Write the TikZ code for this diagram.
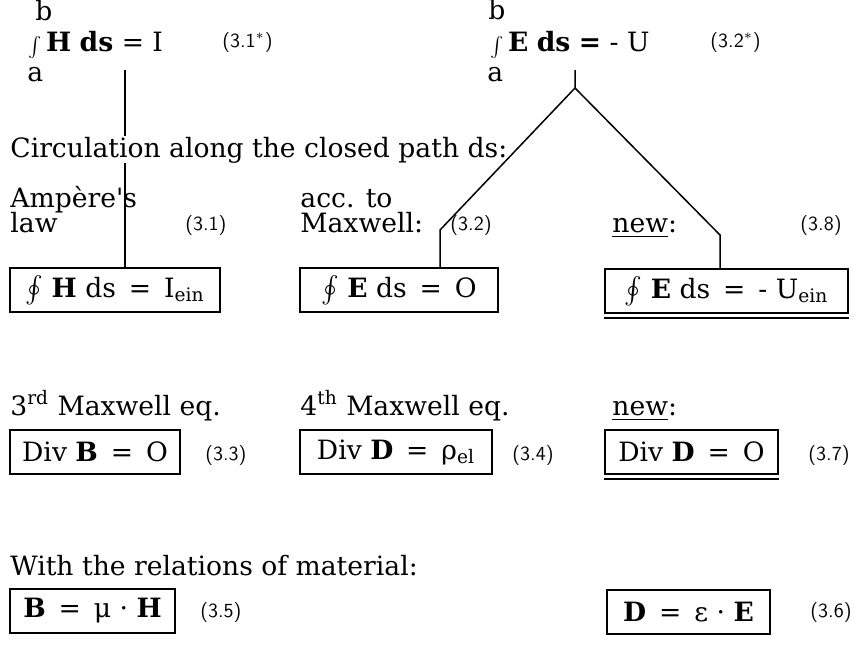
\documentclass[tikz,border=0pt]{standalone}
\usepackage{amsmath}
\usepackage{amssymb}
\usepackage{graphicx}
\usepackage{fontspec}
\setmainfont{DejaVu Serif}
\usetikzlibrary{positioning}

\newcommand{\lint}{\raisebox{-1pt}{\scalebox{0.75}{$\int$}}}

\begin{document}
\begin{tikzpicture}[x=0.5pt,y=-0.5pt,
        txt/.style={anchor=base west,inner sep=0pt,font=\fontsize{13.3}{16}\selectfont},
        num/.style={anchor=west,inner sep=0pt,font=\sffamily\fontsize{10}{12}\selectfont},
        eqbox/.style={draw,line width=1pt,inner sep=0pt,minimum height=22pt,font=\fontsize{13.3}{16}\selectfont},
        link/.style={line width=0.75pt}]
        \useasboundingbox (0,0) rectangle (860,655);

        % Line integrals
        \node[txt] (bH) at (35,20) {b};
        \node[txt] (intH) at (28,51) {\lint\,\textbf{H} \textbf{ds} = I};
        \node[txt] (aH) at (27,81) {a};
        \node[num] (n31s) at (222,42) {(3.1$^*$)};

        \node[txt] (bE) at (488,19) {b};
        \node[txt] (intE) at (490,51) {\lint\,\textbf{E} \textbf{ds} \textbf{=} - U};
        \node[txt] (aE) at (487,81) {a};
        \node[num] (n32s) at (710,42) {(3.2$^*$)};

        \node[txt] (circ) at (10,157) {Circulation along the closed path ds:};

        % Circulation
        \node[txt] (amp) at (10,207) {Ampère\textquotesingle s};
        \node[txt] (law) at (10,232) {law};
        \node[txt] (acc) at (300,207) {acc. to};
        \node[txt] (maxw) at (300,232) {Maxwell:};
        \node[txt] (new1) at (612,232) {\underline{new}:};
        \node[num] (n31) at (185,225) {(3.1)};
        \node[num] (n32) at (450,225) {(3.2)};
        \node[num] (n38) at (800,225) {(3.8)};

        \node[eqbox,minimum width=105pt] (ampBox) at (115,290)
            {$\oint$ \textbf{H} ds \,=\, I\textsubscript{ein}};
        \node[eqbox,minimum width=99pt] (maxBox) at (399,290)
            {$\oint$ \textbf{E} ds \,=\, O\hspace{8pt}};
        \node[eqbox,minimum width=121.5pt] (newBox) at (726.5,291)
            {$\oint$ \textbf{E} ds \,=\, - U\textsubscript{ein}};
        \draw[line width=1pt] ([yshift=-2pt]newBox.south west) -- ([yshift=-2pt]newBox.south east);

        % Divergence
        \node[txt] (m3) at (10,415) {3\textsuperscript{rd} Maxwell eq.};
        \node[txt] (m4) at (300,415) {4\textsuperscript{th} Maxwell eq.};
        \node[txt] (new2) at (612,415) {\underline{new}:};

        \node[eqbox,minimum width=85pt] (divB) at (95,452)
            {Div \textbf{B} \,=\, O};
        \node[eqbox,minimum width=96pt] (divD) at (396,452)
            {Div \textbf{D} \,=\, ρ\textsubscript{el}};
        \node[eqbox,minimum width=86.5pt] (divDnew) at (691.5,452)
            {Div \textbf{D} \,=\, O};
        \draw[line width=1pt] ([yshift=-2pt]divDnew.south west) -- ([yshift=-2pt]divDnew.south east);
        \node[num] (n33) at (205,455) {(3.3)};
        \node[num] (n34) at (512,455) {(3.4)};
        \node[num] (n37) at (808,455) {(3.7)};

        % Material
        \node[txt] (mat) at (10,575) {With the relations of material:};
        \node[eqbox,minimum width=82.5pt] (matB) at (92.5,611)
            {\textbf{B} \,=\, μ · \textbf{H}};
        \node[eqbox,minimum width=81.5pt] (matD) at (688.5,612)
            {\textbf{D} \,=\, ε · \textbf{E}};
        \node[num] (n35) at (200,612) {(3.5)};
        \node[num] (n36) at (810,612) {(3.6)};

        % Links
        \coordinate (tH) at (125,70);
        \coordinate (tE) at (575,70);
        \coordinate (apex) at (575,88);
        \coordinate (kl) at (440,230);
        \coordinate (kr) at (720,235);
        \draw[link] (tH) -- (tH |- circ.north);
        \draw[link] (tH |- circ.south) -- (tH |- ampBox.north);
        \draw[link] (tE) -- (apex) -- (kl) -- (kl |- maxBox.north);
        \draw[link] (apex) -- (kr) -- (kr |- newBox.north);
    \end{tikzpicture}
\end{document}
